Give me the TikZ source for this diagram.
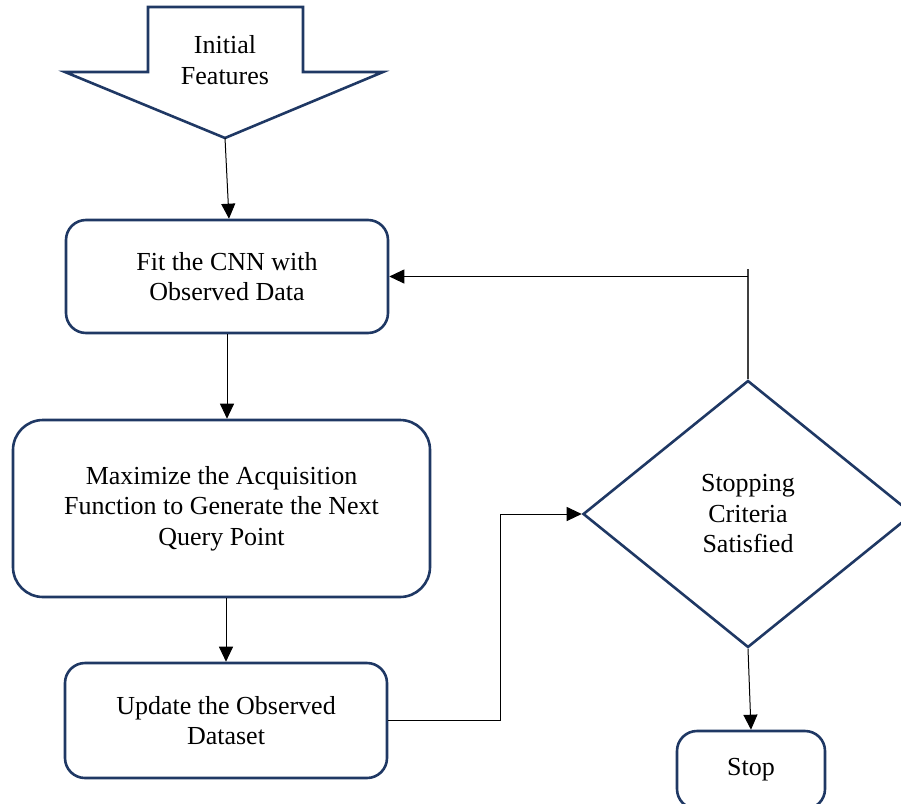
\documentclass[tikz,border=0pt]{standalone}
\usepackage{fontspec}
\setmainfont{Liberation Serif}
\usepackage{xcolor}
\usepackage{tikz}
\usetikzlibrary{arrows.meta, positioning, shapes.geometric}
\definecolor{boxNavy}{HTML}{1F3864}

\begin{document}
\begin{tikzpicture}[
    x=1pt, y=-1pt,
    every node/.style={font=\fontsize{26}{30.5}\selectfont, align=center},
    stepbox/.style={draw=boxNavy, line width=2.6pt, rounded corners=20pt, inner sep=0pt},
    decision/.style={diamond, draw=boxNavy, line width=2.6pt, inner sep=0pt, aspect=1.24},
    link/.style={line width=1pt, -{Triangle[length=15pt, width=14pt]}},
  ]
  \useasboundingbox (0,0) rectangle (901,803);

  % ── Input arrow ──────────────────────────────────────────────────────────
  \draw[boxNavy, line width=2.6pt, line join=miter]
    (148,7) -- (303,7) -- (303,72) -- (383,72) -- (225,138)
    -- (65,72) -- (148,72) -- cycle;
  \node (init) at (225,60) {Initial\\Features};
  \coordinate (initTip) at (225,138);

  % ── Main column ──────────────────────────────────────────────────────────
  \node[stepbox, minimum width=322pt, minimum height=113pt] (fit) at (227,276.5)
    {Fit the CNN with\\Observed Data};
  \node[stepbox, rounded corners=30pt, minimum width=417pt, minimum height=177pt] (max) at (221.5,508.5)
    {Maximize the Acquisition\\Function to Generate the Next\\Query Point};
  \node[stepbox, minimum width=322pt, minimum height=115pt] (upd) at (226,720.5)
    {Update the Observed\\Dataset};

  % ── Decision and stop ────────────────────────────────────────────────────
  \node[decision, minimum width=330pt, minimum height=267pt] (crit) at (748,514)
    {Stopping\\Criteria\\Satisfied};
  \node[stepbox, minimum width=148pt, minimum height=78pt] (stop) at (751,770) {Stop};

  % ── Connectors ───────────────────────────────────────────────────────────
  \draw[link] (initTip) -- ([xshift=2pt]fit.north);
  \draw[link] (fit.south) -- (fit.south |- max.north);
  \draw[link] (upd.north |- max.south) -- (upd.north);
  \draw[link] (upd.east) -- ++(112,0) |- (crit.west);
  \draw[link] (crit.south) -- (stop.north);

  % loop back to the model fit
  \draw[line width=1.4pt, black!75] (crit.north) -- ([yshift=8pt]crit.north |- fit.east);
  \draw[link] (crit.north |- fit.east) -- (fit.east);

\end{tikzpicture}
\end{document}
